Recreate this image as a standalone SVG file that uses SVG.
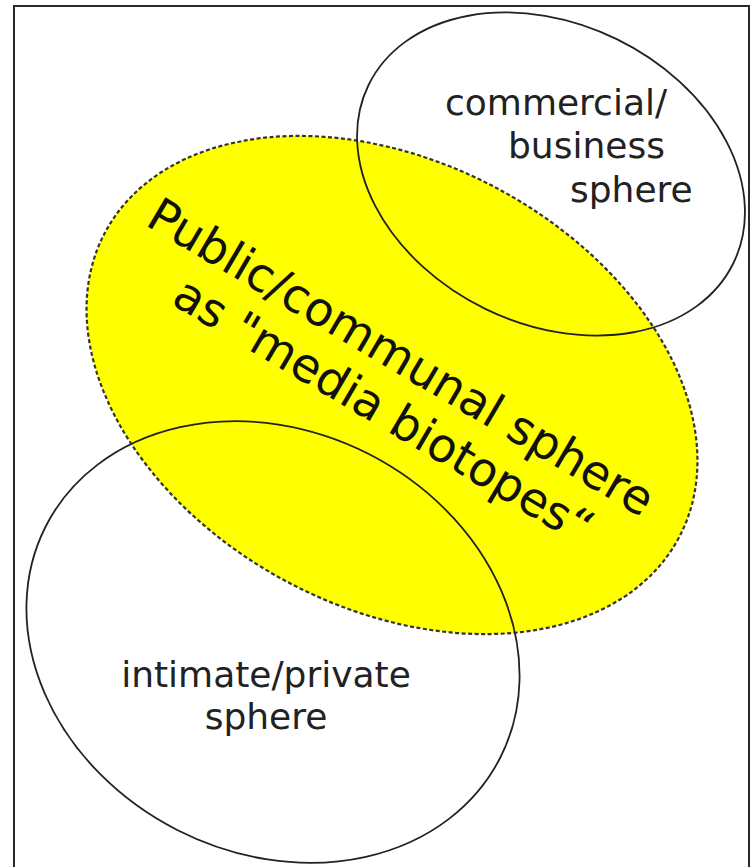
<svg xmlns="http://www.w3.org/2000/svg" width="750" height="867" viewBox="0 0 750 867">
<style>
.frame{fill:#fff;stroke:#2a2a2a;stroke-width:2}
.sphere{fill:none;stroke:#222;stroke-width:1.8}
.public{fill:#ffff00;stroke:#333;stroke-width:2.2;stroke-dasharray:4 2.5}
.lbl{font-family:"DejaVu Sans","Verdana",sans-serif;font-size:36px;fill:#222}
.big{font-family:"DejaVu Sans","Verdana",sans-serif;font-size:47px;fill:#111;text-anchor:middle}
</style>
<rect x="0" y="0" width="750" height="867" fill="#fff"/>
<rect class="frame" x="14" y="6" width="735" height="875"/>
<g id="public-sphere">
<ellipse class="public" cx="392" cy="385" rx="325" ry="223" transform="rotate(28 392 385)"/>
</g>
<g id="commercial-sphere">
<ellipse class="sphere" cx="551" cy="174" rx="203" ry="150" transform="rotate(26 551 174)"/>
<text class="lbl" x="445" y="115">commercial/</text>
<text class="lbl" x="508" y="158">business</text>
<text class="lbl" x="570" y="202">sphere</text>
</g>
<g id="intimate-sphere">
<ellipse class="sphere" cx="273" cy="642" rx="255" ry="211" transform="rotate(27 273 642)"/>
<text class="lbl" x="266" y="687" text-anchor="middle">intimate/private</text>
<text class="lbl" x="266" y="729" text-anchor="middle">sphere</text>
</g>
<g id="public-label" transform="translate(393 371) rotate(30.5)">
<text class="big" x="0" y="0">Public/communal sphere</text>
<text class="big" x="12" y="55">as "media biotopes“</text>
</g>
<g id="connectors"></g>
</svg>
